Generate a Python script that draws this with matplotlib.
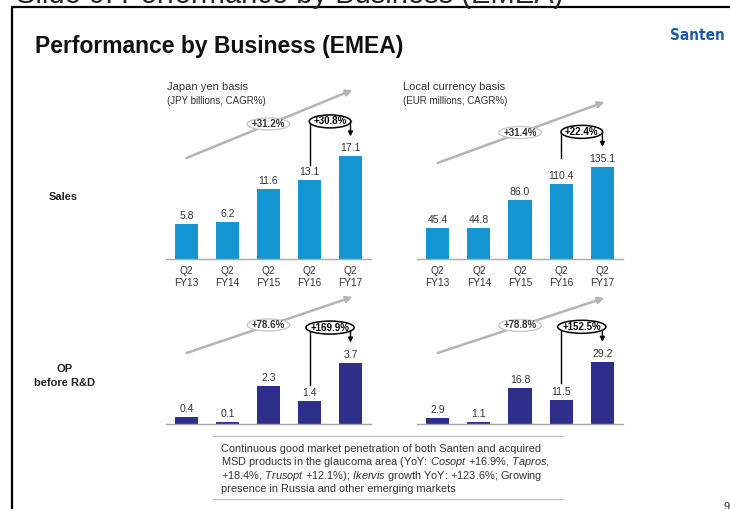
import matplotlib.pyplot as plt
from matplotlib.patches import Ellipse

plt.rcParams['font.family'] = ['Liberation Sans', 'DejaVu Sans']
plt.rcParams['mathtext.fontset'] = 'custom'
plt.rcParams['mathtext.rm'] = 'Liberation Sans'
plt.rcParams['mathtext.it'] = 'Liberation Sans:italic'

# data
periods = ['Q2\nFY13', 'Q2\nFY14', 'Q2\nFY15', 'Q2\nFY16', 'Q2\nFY17']
sales_jpy = [5.8, 6.2, 11.6, 13.1, 17.1]
sales_eur = [45.4, 44.8, 86.0, 110.4, 135.1]
op_jpy = [0.4, 0.1, 2.3, 1.4, 3.7]
op_eur = [2.9, 1.1, 16.8, 11.5, 29.2]
cagr_sales = ['+31.2%', '+31.4%']
cagr_op = ['+78.6%', '+78.8%']
yoy_sales = ['+30.8%', '+22.4%']
yoy_op = ['+169.9%', '+152.5%']
note_lines = [
    'Continuous good market penetration of both Santen and acquired',
    r'MSD products in the glaucoma area (YoY: $\it{Cosopt}$ +16.9%, $\it{Tapros}$,',
    r'+18.4%, $\it{Trusopt}$ +12.1%); $\it{Ikervis}$ growth YoY: +123.6%; Growing',
    'presence in Russia and other emerging markets',
]

W, H = 730, 509
blue = '#1496d2'
navy = '#2e2f8a'
grey = '#b4b4b4'
txt = '#333333'

fig = plt.figure(figsize=(W / 100, H / 100), dpi=100)
ov = fig.add_axes([0, 0, 1, 1])
ov.set_xlim(0, W)
ov.set_ylim(H, 0)
ov.axis('off')
ov.set_zorder(5)
ov.patch.set_visible(False)


def to_px(ax, x, y):
    dx, dy = ax.transData.transform((x, y))
    return dx, H - dy


def panel(left, width, base, top, ppu, values, color, cagr, yoy,
          trend_y0, trend_y1, gap, show_ticks):
    ax = fig.add_axes([left / W, 1 - base / H, width / W, (base - top) / H])
    ax.patch.set_visible(False)
    xs = range(len(values))
    ax.bar(xs, values, width=0.56, color=color, zorder=2)
    ax.set_xlim(-0.5, 4.5)
    ax.set_ylim(0, (base - top) / ppu)
    for s in ['top', 'right', 'left']:
        ax.spines[s].set_visible(False)
    ax.spines['bottom'].set_color('#a8a8a8')
    ax.spines['bottom'].set_linewidth(1)
    ax.set_yticks([])
    if show_ticks:
        ax.set_xticks(list(xs), periods, fontsize=7.3, color=txt, linespacing=1.2)
        ax.tick_params(axis='x', length=0, pad=5)
    else:
        ax.set_xticks([])
    for x, v in zip(xs, values):
        ax.annotate(f'{v:.1f}', (x, v), xytext=(0, 3), textcoords='offset pixels',
                    ha='center', va='bottom', fontsize=7.5, color=txt)

    # CAGR trend arrow
    x0, _ = to_px(ax, 0, 0)
    x4, _ = to_px(ax, 4, 0)
    x2, _ = to_px(ax, 2, 0)
    ov.annotate('', xy=(x4 + 2, trend_y1), xytext=(x0, trend_y0),
                arrowprops=dict(arrowstyle='-|>', color=grey, lw=1.8,
                                mutation_scale=9, shrinkA=0, shrinkB=0))
    ym = (trend_y0 + trend_y1) / 2
    ov.add_patch(Ellipse((x2, ym), 6.6 * len(cagr) + 3, 12, facecolor='white',
                         edgecolor='#c8c8c8', lw=1, zorder=3))
    ov.text(x2, ym, cagr, ha='center', va='center', fontsize=7,
            fontweight='bold', color=txt, zorder=4)

    # YoY bracket
    bx3, t3 = to_px(ax, 3, values[3])
    bx4, t4 = to_px(ax, 4, values[4])
    by = t4 - 35
    ov.plot([bx3, bx3, bx4], [t3 - gap, by, by], color='black', lw=1, zorder=2)
    ov.annotate('', xy=(bx4, t4 - 20), xytext=(bx4, by),
                arrowprops=dict(arrowstyle='-|>', color='black', lw=1,
                                mutation_scale=7, shrinkA=0, shrinkB=0))
    xm = (bx3 + bx4) / 2
    ov.add_patch(Ellipse((xm, by), 6.6 * len(yoy) + 2, 13, facecolor='white',
                         edgecolor='black', lw=1.1, zorder=3))
    ov.text(xm, by, yoy, ha='center', va='center', fontsize=7,
            fontweight='bold', color='black', zorder=4)
    return ax


panel(166, 205, 259, 89, 6.0, sales_jpy, blue, cagr_sales[0], yoy_sales[0],
      158, 90, 15, True)
panel(417, 206, 259, 89, 0.682, sales_eur, blue, cagr_sales[1], yoy_sales[1],
      163, 102, 26, True)
panel(166, 205, 424, 296, 16.6, op_jpy, navy, cagr_op[0], yoy_op[0],
      353, 297, 16, False)
panel(417, 206, 424, 296, 2.13, op_eur, navy, cagr_op[1], yoy_op[1],
      353, 298, 17, False)

# slide frame and titles
ov.plot([12, 12, W], [H, 7, 7], color='black', lw=1.6, clip_on=False)
ov.text(16, 3, 'Slide 9: Performance by Business (EMEA)', fontsize=21,
        va='baseline', ha='left', color='#222222')
ov.text(35, 46, 'Performance by Business (EMEA)', fontsize=16.5,
        fontweight='bold', va='center', ha='left', color='#111111')
ov.text(725, 35, 'Santen', fontsize=11, fontweight='bold', family='DejaVu Sans',
        fontstretch='condensed', color='#1d5aa6', ha='right', va='center')

ov.text(167, 87, 'Japan yen basis', fontsize=8, color=txt, va='center')
ov.text(167, 101, '(JPY billions, CAGR%)', fontsize=7, color=txt, va='center')
ov.text(403, 87, 'Local currency basis', fontsize=8, color=txt, va='center')
ov.text(403, 101, '(EUR millions, CAGR%)', fontsize=7, color=txt, va='center')

ov.text(63, 197, 'Sales', fontsize=8, fontweight='bold', ha='center', va='center',
        color='#222222')
ov.text(65, 376, 'OP\nbefore R&D', fontsize=8, fontweight='bold', ha='center',
        va='center', color='#222222', linespacing=1.5)

# comment box
ov.plot([213, 563], [436, 436], color='#c4c4c4', lw=1)
ov.plot([213, 563], [499, 499], color='#c4c4c4', lw=1)
for i, line in enumerate(note_lines):
    ov.text(221, 449 + 13.4 * i, line, fontsize=7.9, color=txt, ha='left',
            va='center')

ov.text(723, 507, '9', fontsize=8, color='#222222', ha='left', va='center')

fig.savefig('out.png', dpi=100)
